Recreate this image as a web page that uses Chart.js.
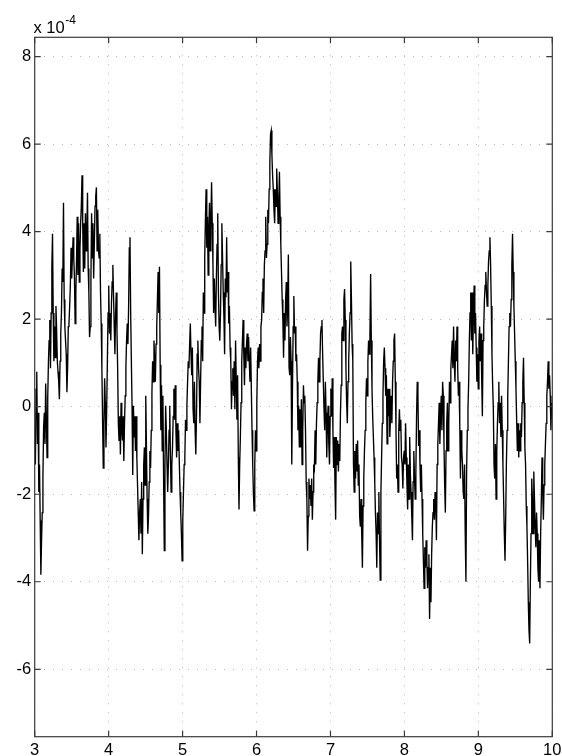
<!DOCTYPE html>
<html>
<head>
<meta charset="utf-8">
<script src="https://cdn.jsdelivr.net/npm/chart.js@4.4.0/dist/chart.umd.min.js"></script>
<style>
  html, body { margin: 0; padding: 0; background: #fff; }
  #wrap { position: relative; width: 562px; height: 756px; }
</style>
</head>
<body>
<div id="wrap"><canvas id="c" width="562" height="756"></canvas></div>
<script>
// Signal samples in units of 1e-4, in time order, split into consecutive chunks.
const traceA = [
  -0.54,-1.32,0.40,0.80,-0.85,-0.14,-1.95,-1.32,-2.60,-3.84,
  -3.05,-2.42,-1.60,-0.46,-0.14,-0.85,0.53,-0.22,-1.16,0.20,
  1.00,1.51,1.98,0.88,2.14,3.20,3.95,2.14,1.04,1.83,
  1.12,2.30,1.75,1.04,0.80,0.57,0.17,1.04,1.67,2.14,
  3.16,2.85,4.66,2.45,1.83,1.50,1.20,0.33,0.88,1.83,
  1.90,2.30,2.77,3.63,2.93,3.40,3.87,3.40,2.93,1.90,
  2.60,3.32,4.34,3.01,4.19,2.85,3.56,4.20,4.58,5.29,
  4.19,3.08,4.19,3.16,4.42,3.56,3.95,4.89,3.16,2.61,
  1.59,1.83,2.93,4.42,3.40,4.19,2.93,3.71
];
const traceB = [
  4.58,4.81,5.01,3.56,4.50,3.60,3.40,3.95,2.61,1.90,
  0.88,-0.30,-1.40,-0.38,0.65,0.09,-0.93,-0.06,1.04,2.14,
  2.77,1.67,2.14,1.51,2.38,2.85,3.24,2.53,1.83,1.20,
  2.14,2.61,1.75,0.88,-0.38,-0.77,-0.22,-1.09,0.09,-0.54,
  -0.77,-0.22,-1.24,-0.38,0.25,0.88,1.51,1.90,1.43,2.30,
  3.63,3.87,2.14,1.04,0.02,-1.56,0.02,-0.69,-0.22,-1.01,
  -0.22,-1.16,-1.79,-2.42,-3.05,-2.42,-2.11,-2.90,-1.72,-3.37,
  -2.11,-1.32,-0.93,-1.79,0.25,-0.93,-2.11,-2.90,-2.50,-1.72,
  -1.01,-1.40,-0.54,0.33,1.04,0.57,1.51,1.04,0.57,1.43,
  1.83,2.45,3.08,2.14
];
const traceC = [
  3.20,0.96,
  -0.54,0.49,-1.01,0.25,-1.64,-3.29,-1.32,0.02,-0.54,-1.32,
  -1.95,-1.32,-0.54,0.02,-1.16,-1.95,-1.32,-0.93,-0.22,0.41,
  -0.30,0.49,-0.54,-1.16,-0.38,-1.01,-0.54,-1.32,-1.95,-2.42,
  -2.90,-3.52,-2.58,-1.95,-1.32,-1.16,-0.30,-0.54,0.02,0.57,
  1.04,0.88,1.43,1.90,1.20,0.72,1.35,-0.06,-0.38,0.57,
  -0.54,-1.09,-0.22,1.20,1.51,0.88,0.57,-0.38,0.57,1.51,
  1.83,1.04,2.61,2.14,3.40,4.26,4.97,3.63,4.34,3.01,
  4.10,4.66,3.56,4.26,5.13,4.19,3.24,2.14,2.93,2.30,
  1.83,2.93,3.71,4.42,2.61,1.83,1.51,2.14,3.24,4.19,
  3.40,2.61
];
const traceD = [
  2.06,1.20,2.93,2.50,3.87,2.61,3.08,1.90,2.30,1.35,
  1.04,-0.06,0.57,0.88,0.25,1.04,-0.06,1.51,0.57,-0.30,
  0.72,-1.16,-2.35,-1.32,-0.69,0.09,1.04,1.51,1.98,1.20,
  0.49,1.35,0.88,1.43,1.67,1.04,1.59,1.04,0.57,1.35,
  0.41,-0.54,-1.32,-1.95,-2.38,-1.32,-0.54,-1.01,0.09,1.04,
  1.35,0.88,1.43,1.04,1.83,1.98,2.61,2.93,2.14,3.24,
  3.56,4.34,3.40,3.71,4.50,4.19,4.97,5.60,6.23,6.31,
  5.76,5.29,4.97,4.50,4.19,4.97,4.58,5.44,4.89,4.19,
  4.66,5.37,4.34,3.71,3.08,2.45,1.98,1.12,2.14,1.51,
  2.45,2.85,1.83,2.30,3.48
];
const traceE = [
  0.90,
  0.72,1.59,1.04,-1.32,0.41,1.83,2.53,1.67,1.83,1.04,
  1.20,0.57,-0.54,0.02,-0.93,-0.06,-0.93,0.17,-1.32,-0.54,
  0.49,0.09,0.25,-0.54,-1.72,-2.11,-3.29,-2.50,-1.64,-2.11,
  -1.79,-2.27,-1.64,-2.58,-1.95,-1.32,-1.40,-0.54,-1.32,-0.38,
  0.09,0.57,1.12,0.57,1.04,1.67,1.83,1.98,1.20,0.57,
  -0.06,-0.54,0.57,-0.14,-1.16,-0.38,0.02,-0.85,-1.32,-0.22,
  0.41,-0.22,0.65,-0.54,-1.40,-0.69,-1.79,-2.58,-0.69,-1.32,
  -0.77,-1.48,-0.85,-1.24,-0.14,0.49,1.67,1.83,1.51,2.45,
  2.69,1.98,0.88,0.09,-0.38,0.57,1.04,1.67,2.14,3.32,
  2.45,1.43,1.04
];
const traceF = [
  -1.32,-1.95,-1.01,-1.64,-0.85,-1.48,-0.77,-1.79,-1.32,-2.50,
  -2.74,-2.11,-2.90,-3.68,-2.27,-1.64,-1.01,-0.54,0.09,0.65,
  0.25,1.04,1.51,1.20,1.67,3.03,1.51,0.41,-0.22,-0.69,
  -1.16,-1.72,-2.42,-2.90,-3.68,-2.42,-2.90,-1.95,-3.05,-3.96,
  -1.95,-1.16,-0.38,0.25,1.04,1.35,0.88,0.25,0.72,-0.85,
  0.41,-0.22,0.41,-0.69,-0.22,0.25,-0.38,0.57,1.04,1.51,
  1.67,0.57,-0.54,-1.64,-1.32,-1.95,-0.54,-0.06,-0.54,-0.30,
  -1.16,-1.32,-1.87,-1.16,-1.01,-1.32,-0.38,-1.16,-1.79,-2.35,
  -1.32,-2.11,-0.69,-1.56,-1.95,-2.50,-3.05,-1.72,-1.01,-1.64,
  -2.11,-1.48,-0.22,0.57,0.25
];
const traceG = [
  -0.90,
  -0.54,-1.32,-1.95,-1.32,-2.11,-2.90,-3.52,-4.15,-3.21,-3.68,
  -3.05,-3.52,-4.15,-3.68,-3.37,-4.85,-3.68,-4.47,-3.37,-2.74,
  -2.42,-2.11,-2.58,-1.95,-2.11,-3.05,-1.32,-0.85,-0.38,0.09,
  -0.85,-0.22,0.25,-0.54,0.57,0.25,-0.85,-1.79,-2.42,-1.01,
  -0.38,0.09,-1.01,-0.38,0.57,0.09,0.88,1.20,1.51,0.88,
  1.83,1.04,0.57,1.51,1.04,1.83,0.88,0.25,0.57,-0.38,
  -1.64,-0.54,-1.01,-1.32,-1.95,-2.11,-1.32,-2.90,-4.00,-1.48,
  -0.54,-0.06,0.57,1.51,2.14,2.61,1.51,2.61,1.20,2.14,
  2.77,1.67,2.14,1.35,0.57,1.20,0.41,1.51,1.83,1.04,
  1.67,0.65,-0.22
];
const traceH = [
  1.51,1.83,2.45,2.77,3.08,2.61,2.30,2.77,3.32,3.56,
  3.87,3.24,2.30,1.20,0.49,-0.06,-1.32,-1.64,-0.85,-2.11,
  -1.01,-0.38,0.09,0.57,-0.38,0.09,-0.69,0.25,-0.54,-1.32,
  -2.11,-2.90,-3.52,-2.58,-1.32,-0.54,0.25,1.04,1.83,2.14,
  1.83,2.45,3.24,3.95,3.08,2.30,1.67,1.04,0.41,-0.30,
  -1.01,-0.38,-1.16,-0.54,-1.01,-0.38,-0.69,0.09,0.57,1.12,
  0.09,-0.93,-1.32,-2.27,-2.74,-3.52,-4.47,-5.10,-5.41,-4.00,
  -2.90,-1.64,-2.11,-2.90,-1.48,-2.11,-2.74,-3.21,-2.42,-2.90,
  -3.68,-4.00,-3.05,-4.15,-2.90,-2.11,-1.16,-1.95,-2.58,-1.79,
  -1.32,-0.85,-0.38,0.25,0.57,1.04,0.41,0.72,0.25,-0.54,
  0.09,-0.06
];

// Sampling interval and axes
const tStart = 3, tEnd = 10;
const xTicks = [3, 4, 5, 6, 7, 8, 9, 10];
const yTicks = [-6, -4, -2, 0, 2, 4, 6, 8];
const yLimits = [-7.54, 8.44];
const exponentBase = 'x 10';
const exponentPower = '-4';

const signal = [...traceA, ...traceB, ...traceC, ...traceD, ...traceE, ...traceF, ...traceG, ...traceH];
const step = (tEnd - tStart) / (signal.length - 1);
const points = signal.map((v, i) => ({ x: tStart + i * step, y: v }));

const FONT = '"Liberation Sans", Arial, Helvetica, sans-serif';
const AXIS_COLOR = '#3a3a3a';

// Box around the plot, inward tick marks on all four sides, and the exponent label.
const boxAxes = {
  id: 'boxAxes',
  afterDraw(chart) {
    const { ctx, chartArea: a, scales: { x, y } } = chart;
    const tick = 6;
    ctx.save();
    ctx.strokeStyle = AXIS_COLOR;
    ctx.lineWidth = 1.2;
    ctx.beginPath();
    xTicks.forEach(v => {
      const px = x.getPixelForValue(v);
      ctx.moveTo(px, a.bottom); ctx.lineTo(px, a.bottom - tick);
      ctx.moveTo(px, a.top); ctx.lineTo(px, a.top + tick);
    });
    yTicks.forEach(v => {
      const py = y.getPixelForValue(v);
      ctx.moveTo(a.left, py); ctx.lineTo(a.left + tick, py);
      ctx.moveTo(a.right, py); ctx.lineTo(a.right - tick, py);
    });
    ctx.stroke();
    ctx.strokeRect(a.left, a.top, a.right - a.left, a.bottom - a.top);

    ctx.fillStyle = '#000';
    ctx.textBaseline = 'alphabetic';
    ctx.textAlign = 'left';
    ctx.font = '16.5px ' + FONT;
    ctx.fillText(exponentBase, 33.5, 32.5);
    const w = ctx.measureText(exponentBase).width;
    ctx.font = '12px ' + FONT;
    ctx.fillText(exponentPower, 33.5 + w + 0.5, 24);
    ctx.restore();
  }
};

new Chart(document.getElementById('c'), {
  type: 'line',
  data: {
    datasets: [{
      data: points,
      borderColor: '#000',
      borderWidth: 1.35,
      pointRadius: 0,
      tension: 0,
      fill: false
    }]
  },
  options: {
    responsive: false,
    devicePixelRatio: 1,
    animation: false,
    events: [],
    layout: { padding: { top: 37.3, right: 9.7, left: 0, bottom: 0 } },
    plugins: { legend: { display: false }, tooltip: { enabled: false }, title: { display: false } },
    scales: {
      x: {
        type: 'linear',
        min: tStart,
        max: tEnd,
        afterBuildTicks: s => { s.ticks = xTicks.map(v => ({ value: v })); },
        afterFit: s => { s.height = 19.3; s.paddingLeft = 0; s.paddingRight = 0; },
        grid: { color: '#b8b8b8', lineWidth: 1, drawTicks: false },
        border: { display: false, dash: [1, 8] },
        ticks: {
          autoSkip: false, maxRotation: 0, padding: 4, color: '#000',
          font: { family: FONT, size: 16.5 },
          callback: v => String(v)
        }
      },
      y: {
        type: 'linear',
        min: yLimits[0],
        max: yLimits[1],
        afterBuildTicks: s => { s.ticks = yTicks.map(v => ({ value: v })); },
        afterFit: s => { s.width = 34.7; s.paddingTop = 0; s.paddingBottom = 0; },
        grid: { color: '#b8b8b8', lineWidth: 1, drawTicks: false },
        border: { display: false, dash: [1, 8] },
        ticks: {
          autoSkip: false, padding: 3.5, color: '#000',
          font: { family: FONT, size: 16.5 },
          callback: v => String(v)
        }
      }
    }
  },
  plugins: [boxAxes]
});
</script>
</body>
</html>
